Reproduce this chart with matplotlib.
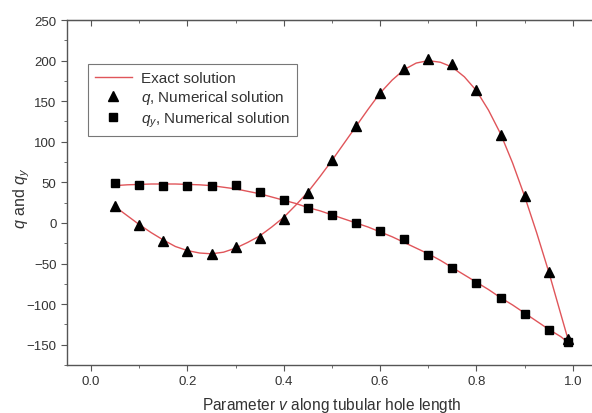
import numpy as np
import matplotlib
matplotlib.use('Agg')
import matplotlib.pyplot as plt
from matplotlib.ticker import MultipleLocator

plt.rcParams['font.family'] = ['Liberation Sans', 'DejaVu Sans']
plt.rcParams['mathtext.fontset'] = 'custom'
plt.rcParams['mathtext.rm'] = 'Liberation Sans'
plt.rcParams['mathtext.it'] = 'Liberation Sans:italic'

# numerical solutions (markers)
v_num = [0.05, 0.10, 0.15, 0.20, 0.25, 0.30, 0.35, 0.40, 0.45, 0.50,
         0.55, 0.60, 0.65, 0.70, 0.75, 0.80, 0.85, 0.90, 0.95, 0.99]
q_num = [21, -2, -22, -34, -38, -30, -18, 5, 37, 77,
         120, 160, 190, 202, 196, 164, 108, 33, -60, -143]
qy_num = [49, 47, 46, 46, 46, 47, 38, 28, 19, 10,
          0, -10, -20, -39, -56, -74, -93, -112, -132, -147]

# exact solution (red lines)
v_exact = [0.05, 0.075, 0.10, 0.125, 0.15, 0.175, 0.20, 0.225, 0.25, 0.275,
           0.30, 0.325, 0.35, 0.375, 0.40, 0.425, 0.45, 0.475, 0.50, 0.525,
           0.55, 0.575, 0.60, 0.625, 0.65, 0.675, 0.70, 0.725, 0.75, 0.775,
           0.80, 0.825, 0.85, 0.875, 0.90, 0.925, 0.95, 0.975, 0.99]
q_exact = [20, 9, -2, -12, -21, -29, -34, -37, -38, -36,
           -31, -24, -16, -5, 7, 22, 38, 57, 77, 98,
           119, 140, 160, 176, 189, 197, 200, 198, 192, 180,
           163, 139, 110, 74, 33, -12, -60, -112, -143]
qy_exact = [46, 47, 47.5, 48, 48, 48, 47.5, 47, 46, 44,
            42, 39, 36, 32, 28, 24, 19, 15, 10, 5,
            0, -5, -11, -17, -24, -31, -38, -46, -55, -64,
            -73, -82, -92, -101, -111, -121, -131, -140, -147]

red = '#e0555a'

fig = plt.figure(figsize=(5.92, 4.14), dpi=100)
ax = fig.add_axes([0.1132, 0.1159, 0.895, 0.8333])

ax.plot(v_exact, q_exact, color=red, lw=1.0, label='Exact solution', zorder=2)
ax.plot(v_exact, qy_exact, color=red, lw=1.0, zorder=2)
ax.plot(v_num, q_num, ls='none', marker='^', ms=7, color='black',
        label='$q$, Numerical solution', zorder=3)
ax.plot(v_num, qy_num, ls='none', marker='s', ms=5.5, color='black',
        label='$q_y$, Numerical solution', zorder=3)

ax.set_xlim(-0.05, 1.05)
ax.set_ylim(-175, 250)
ax.xaxis.set_minor_locator(MultipleLocator(0.1))
ax.yaxis.set_major_locator(MultipleLocator(50))
ax.yaxis.set_minor_locator(MultipleLocator(25))
ax.set_xticks(np.arange(0, 1.01, 0.2))
ax.set_xticklabels(['0.0', '0.2', '0.4', '0.6', '0.8', '1.0'])

for s in ax.spines.values():
    s.set_color('#555555')
    s.set_linewidth(1.0)

ax.tick_params(which='both', direction='out', top=False, right=False,
               labelsize=9.5, colors='#555555', labelcolor='#333333')
ax.tick_params(which='major', length=4)
ax.tick_params(which='minor', length=2.5)

# top axis ticks pointing inward
top = ax.secondary_xaxis('top')
top.set_xticks(np.arange(0, 1.01, 0.2))
top.xaxis.set_minor_locator(MultipleLocator(0.1))
top.tick_params(which='both', direction='in', labeltop=False, colors='#555555')
top.tick_params(which='major', length=4)
top.tick_params(which='minor', length=2.5)
top.spines['top'].set_color('#555555')

ax.set_xlabel('Parameter $v$ along tubular hole length', fontsize=11.2,
              color='#333333')
ax.xaxis.set_label_coords(0.5, -0.086)
ax.set_ylabel('$q$ and $q_y$', fontsize=11.5, color='#333333')
ax.yaxis.set_label_coords(-0.066, 0.487)

leg = ax.legend(loc='upper left', bbox_to_anchor=(0.04, 0.872), fontsize=11,
                frameon=True, fancybox=False, edgecolor='#555555',
                handlelength=2.4, borderpad=0.45, labelspacing=0.22,
                handletextpad=0.6, borderaxespad=0)
leg.get_frame().set_linewidth(0.8)
for t in leg.get_texts():
    t.set_color('#333333')

fig.savefig('out.png', dpi=100)
